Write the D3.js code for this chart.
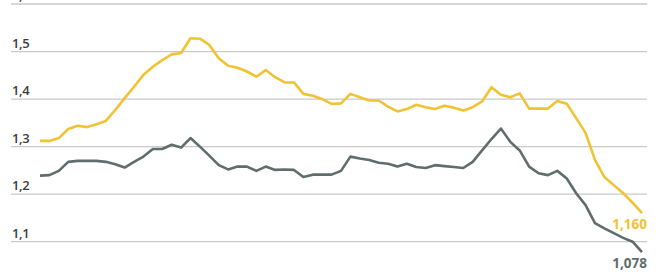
<html>
  <head>
    <meta charset="utf-8">
    <style>
      body { margin: 0; background: #fff; }
    </style>
  </head>
  <body>
    <script src="https://d3js.org/d3.v7.min.js"></script>
    <script>
      // Values, one point per period
      var yellowValues = [
        1.312, 1.312, 1.318, 1.337, 1.344, 1.341, 1.347, 1.354, 1.377, 1.402,
        1.426, 1.451, 1.468, 1.482, 1.494, 1.497, 1.528, 1.527, 1.514, 1.486,
        1.470, 1.466, 1.458, 1.447, 1.461, 1.446, 1.435, 1.435, 1.411, 1.407,
        1.400, 1.390, 1.391, 1.411, 1.404, 1.397, 1.397, 1.384, 1.374, 1.379,
        1.388, 1.383, 1.379, 1.386, 1.382, 1.376, 1.383, 1.395, 1.425, 1.409,
        1.404, 1.412, 1.380, 1.380, 1.380, 1.396, 1.390, 1.360, 1.329, 1.272,
        1.236, 1.219, 1.202, 1.182, 1.160
      ];
      var greyValues = [
        1.239, 1.240, 1.249, 1.268, 1.270, 1.270, 1.270, 1.268, 1.263, 1.256,
        1.268, 1.279, 1.295, 1.295, 1.304, 1.298, 1.318, 1.300, 1.281, 1.261,
        1.252, 1.258, 1.258, 1.249, 1.258, 1.251, 1.252, 1.251, 1.236, 1.241,
        1.241, 1.241, 1.249, 1.279, 1.275, 1.272, 1.266, 1.264, 1.258, 1.264,
        1.257, 1.255, 1.261, 1.259, 1.257, 1.255, 1.268, 1.292, 1.316, 1.338,
        1.310, 1.292, 1.258, 1.244, 1.240, 1.249, 1.233, 1.202, 1.177, 1.139,
        1.128, 1.118, 1.108, 1.100, 1.078
      ];
      var tickValues = [1.1, 1.2, 1.3, 1.4, 1.5, 1.6];
      var tickLabels = ['1,1', '1,2', '1,3', '1,4', '1,5', '1,6'];
      var endLabels = ['1,160', '1,078'];

      var WIDTH = 669, HEIGHT = 272;
      var YELLOW = '#f1c232', GREY = '#606d6c', GRID = '#c9c9c9', TEXT = '#3d3d3d';

      var svg = d3.select('body')
        .append('svg')
        .attr('width', WIDTH)
        .attr('height', HEIGHT);

      var x = d3.scaleLinear()
        .domain([0, yellowValues.length - 1])
        .range([40, 642]);

      var y = d3.scaleLinear()
        .domain([1.1, 1.6])
        .range([241.7, 4]);

      // Gridlines
      svg.selectAll('line.grid')
        .data(tickValues)
        .enter()
        .append('line')
        .attr('class', 'grid')
        .attr('x1', 11)
        .attr('x2', 647)
        .attr('y1', function(d) { return y(d); })
        .attr('y2', function(d) { return y(d); })
        .style('stroke', GRID)
        .style('stroke-width', 1.3);

      // Tick labels sit just above their gridline (the top one is cropped, as in the source)
      svg.selectAll('text.tick')
        .data(tickValues)
        .enter()
        .append('text')
        .attr('class', 'tick')
        .attr('x', 12)
        .attr('y', function(d) { return y(d) - 4; })
        .attr('font-family', 'Open Sans')
        .attr('font-weight', 600)
        .attr('font-size', '13px')
        .attr('letter-spacing', '-0.4px')
        .style('fill', TEXT)
        .text(function(d, i) { return tickLabels[i]; });

      var line = d3.line()
        .x(function(d, i) { return x(i); })
        .y(function(d) { return y(d); });

      svg.append('path')
        .datum(greyValues)
        .attr('d', line)
        .style('fill', 'none')
        .style('stroke', GREY)
        .style('stroke-width', 2.6)
        .style('stroke-linejoin', 'round');

      svg.append('path')
        .datum(yellowValues)
        .attr('d', line)
        .style('fill', 'none')
        .style('stroke', YELLOW)
        .style('stroke-width', 2.6)
        .style('stroke-linejoin', 'round');

      // End value labels
      var last = yellowValues.length - 1;
      svg.append('text')
        .attr('x', 647)
        .attr('y', y(yellowValues[last]) + 16)
        .attr('text-anchor', 'end')
        .attr('font-family', 'Open Sans')
        .attr('font-weight', 700)
        .attr('font-size', '13.5px')
        .style('fill', YELLOW)
        .text(endLabels[0]);

      svg.append('text')
        .attr('x', 647)
        .attr('y', y(greyValues[last]) + 15.5)
        .attr('text-anchor', 'end')
        .attr('font-family', 'Open Sans')
        .attr('font-weight', 700)
        .attr('font-size', '13.5px')
        .style('fill', GREY)
        .text(endLabels[1]);
    </script>
  </body>
</html>
